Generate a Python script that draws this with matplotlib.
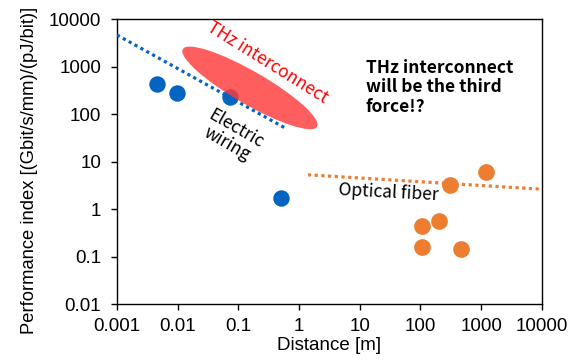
import matplotlib.pyplot as plt
from matplotlib.patches import Ellipse
from matplotlib.transforms import ScaledTranslation

plt.rcParams['font.family'] = ['Liberation Sans', 'DejaVu Sans']

# Data
electric_dist = [0.0046, 0.0097, 0.073, 0.5]
electric_perf = [437, 282, 234, 1.73]
optical_dist = [1200, 306, 204, 105, 105, 470]
optical_perf = [6.0, 3.24, 0.57, 0.45, 0.157, 0.143]

# Trend lines (end points)
electric_trend_x = [0.001, 0.58]
electric_trend_y = [4700, 52]
optical_trend_x = [1.4, 10000]
optical_trend_y = [5.3, 2.63]

xticks = [0.001, 0.01, 0.1, 1, 10, 100, 1000, 10000]
xtick_labels = ['0.001', '0.01', '0.1', '1', '10', '100', '1000', '10000']
yticks = [0.01, 0.1, 1, 10, 100, 1000, 10000]
ytick_labels = ['0.01', '0.1', '1', '10', '100', '1000', '10000']

blue = '#0563C1'
orange = '#ED7D31'
jp = ['Noto Sans CJK JP', 'DejaVu Sans']

fig = plt.figure(figsize=(5.82, 3.63), dpi=100)
ax = fig.add_axes([0.201, 0.1625, 0.730, 0.784])
ax.set_xscale('log')
ax.set_yscale('log')
ax.set_xlim(0.001, 10000)
ax.set_ylim(0.01, 10000)

ax.scatter(electric_dist, electric_perf, s=140, color=blue, zorder=2, linewidths=0)
ax.scatter(optical_dist, optical_perf, s=145, color=orange, zorder=2, linewidths=0)

# THz region ellipse (size in inches, centred in data coords)
ell = Ellipse((0, 0), 1.55, 0.33, angle=-30, facecolor='#FF3B3B', alpha=0.82,
              edgecolor='none', zorder=3,
              transform=fig.dpi_scale_trans + ScaledTranslation(0.155, 360, ax.transData))
ax.add_patch(ell)

ax.plot(electric_trend_x, electric_trend_y, color=blue, lw=2.3,
        linestyle=(0, (1, 1.1)), zorder=4)
ax.plot(optical_trend_x, optical_trend_y, color=orange, lw=2.3,
        linestyle=(0, (1, 1.1)), zorder=4)

ax.text(0.30, 1250, 'THz interconnect', color='red', fontsize=12.5,
        rotation=-32, ha='center', va='center', family=jp)
ax.text(0.078, 34, 'Electric\nwiring', color='black', fontsize=12.5,
        rotation=-30, ha='center', va='center', linespacing=1.0, family=jp)
ax.text(30, 2.2, 'Optical fiber', color='black', fontsize=12.5,
        rotation=-3, ha='center', va='center', family=jp)
ax.text(12.6, 1500, 'THz interconnect\nwill be the third\nforce!?', color='black',
        fontsize=12.5, fontweight='bold', ha='left', va='top', linespacing=1.12,
        family=jp)

ax.set_xticks(xticks)
ax.set_xticklabels(xtick_labels)
ax.set_yticks(yticks)
ax.set_yticklabels(ytick_labels)
ax.minorticks_off()
ax.tick_params(labelsize=13.5, length=4.3, width=1)
ax.tick_params(axis='y', pad=7)
ax.tick_params(axis='x', pad=6)
for sp in ax.spines.values():
    sp.set_linewidth(1)

ax.set_xlabel('Distance [m]', fontsize=13.5, labelpad=1)
# y label sits a bit below the axes centre in the reference
fig.text(30 / 582, 1 - 170 / 363, 'Performance index [(Gbit/s/mm)/(pJ/bit)]',
         fontsize=13.2, rotation=90, ha='center', va='center')

fig.savefig('out.png', dpi=100)
